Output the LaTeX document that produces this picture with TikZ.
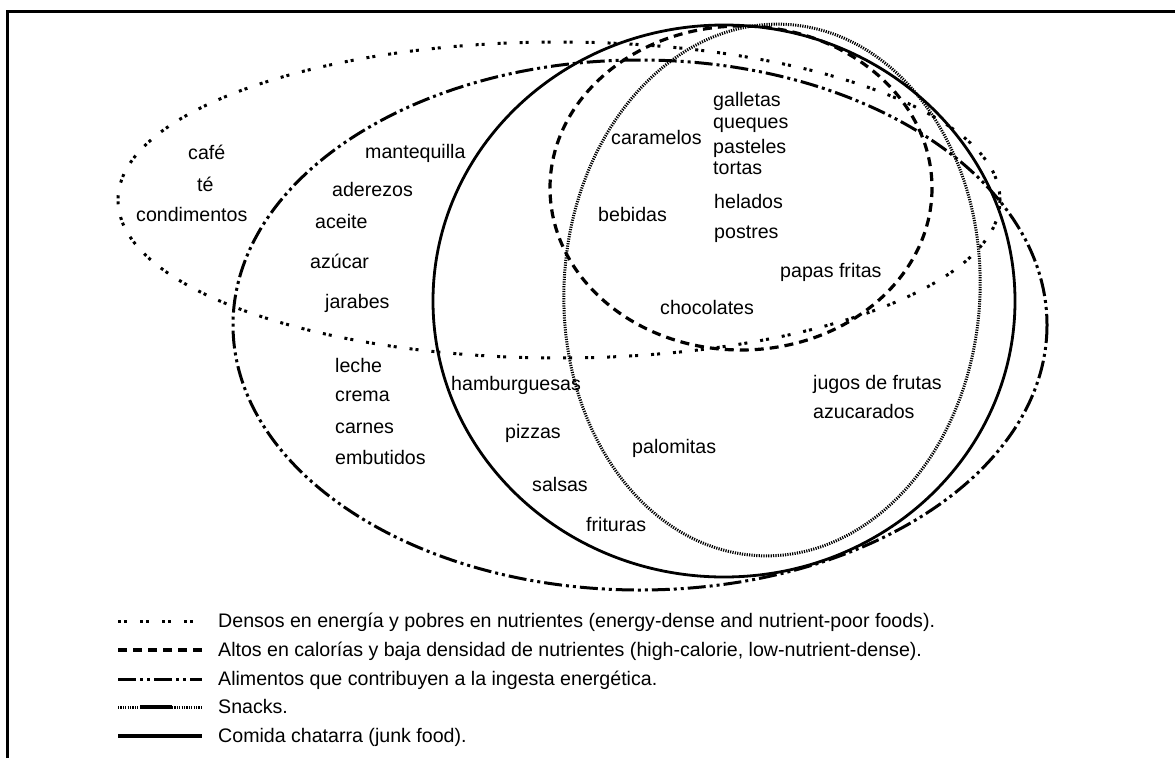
\documentclass[tikz,border=0pt]{standalone}
\usepackage{fontspec}
\setmainfont{Liberation Sans}
\begin{document}
\begin{tikzpicture}[x=1pt,y=-1pt,
  lbl/.style={font=\fontsize{19.6}{22}\selectfont, inner sep=0pt, anchor=base west},
  densos/.style={line width=3pt, dash pattern=on 3pt off 3pt on 3pt off 13pt},
  altos/.style={line width=3.2pt, dash pattern=on 9pt off 6pt},
  aliment/.style={line width=3pt, dash pattern=on 18pt off 4pt on 3pt off 4pt on 3pt off 4pt},
  snackline/.style={line width=3pt, dash pattern=on 1.2pt off 1.2pt},
  chatarra/.style={line width=2.8pt},
]
\useasboundingbox (0,0) rectangle (1175,758);

% outer frame
\coordinate (fb) at (7,758);
\coordinate (ftl) at (7,11);
\coordinate (fr) at (1175,11);
\draw[line width=3pt] (fb) -- (ftl) -- (fr);

% sets
\draw[densos] (559,200) ellipse [x radius=441, y radius=158];
\draw[aliment] (640,325) ellipse [x radius=407, y radius=265];
\draw[chatarra] (724,301) ellipse [x radius=291, y radius=276];
\draw[altos] (741,188) ellipse [x radius=191, y radius=162];
\draw[snackline, rotate around={-3:(772,290)}] (772,290) ellipse [x radius=208, y radius=266];

% items
\node[lbl] (cafe) at (188,159) {café};
\node[lbl] (te) at (197,191) {té};
\node[lbl] (condimentos) at (136,221) {condimentos};
\node[lbl] (mantequilla) at (365,158) {mantequilla};
\node[lbl] (aderezos) at (332,196) {aderezos};
\node[lbl] (aceite) at (315,228) {aceite};
\node[lbl] (azucar) at (310,268) {azúcar};
\node[lbl] (jarabes) at (325,308) {jarabes};
\node[lbl] (leche) at (335,372) {leche};
\node[lbl] (crema) at (335,401) {crema};
\node[lbl] (carnes) at (335,433) {carnes};
\node[lbl] (embutidos) at (335,464) {embutidos};
\node[lbl] (hamburguesas) at (451,390) {hamburguesas};
\node[lbl] (pizzas) at (505,438) {pizzas};
\node[lbl] (salsas) at (532,491) {salsas};
\node[lbl] (frituras) at (586,531) {frituras};
\node[lbl] (palomitas) at (632,453) {palomitas};
\node[lbl] (caramelos) at (611,144) {caramelos};
\node[lbl] (galletas) at (713,106) {galletas};
\node[lbl] (queques) at (713,128) {queques};
\node[lbl] (pasteles) at (713,153) {pasteles};
\node[lbl] (tortas) at (713,174) {tortas};
\node[lbl] (helados) at (714,208) {helados};
\node[lbl] (postres) at (714,238) {postres};
\node[lbl] (bebidas) at (598,221) {bebidas};
\node[lbl] (papas) at (780,277) {papas fritas};
\node[lbl] (chocolates) at (660,314) {chocolates};
\node[lbl] (jugos) at (813,389) {jugos de frutas};
\node[lbl] (azucarados) at (813,418) {azucarados};

% legend
\coordinate (l1a) at (118,621); \coordinate (l1b) at (202,621);
\coordinate (l2a) at (118,650); \coordinate (l2b) at (202,650);
\coordinate (l3a) at (118,679); \coordinate (l3b) at (202,679);
\coordinate (l4a) at (118,707); \coordinate (l4m) at (140,707);
\coordinate (l4n) at (172,707); \coordinate (l4b) at (202,707);
\coordinate (l5a) at (118,736); \coordinate (l5b) at (202,736);
\draw[densos] (l1a) -- (l1b);
\draw[altos] (l2a) -- (l2b);
\draw[aliment] (l3a) -- (l3b);
\draw[snackline] (l4a) -- (l4m);
\draw[line width=4pt] (l4m) -- (l4n);
\draw[snackline] (l4n) -- (l4b);
\draw[chatarra, line width=3.5pt] (l5a) -- (l5b);
\node[lbl] (t1) at (218,627) {Densos en energía y pobres en nutrientes (energy-dense and nutrient-poor foods).};
\node[lbl] (t2) at (218,656) {Altos en calorías y baja densidad de nutrientes (high-calorie, low-nutrient-dense).};
\node[lbl] (t3) at (218,685) {Alimentos que contribuyen a la ingesta energética.};
\node[lbl] (t4) at (218,713) {Snacks.};
\node[lbl] (t5) at (218,742) {Comida chatarra (junk food).};
\end{tikzpicture}
\end{document}
